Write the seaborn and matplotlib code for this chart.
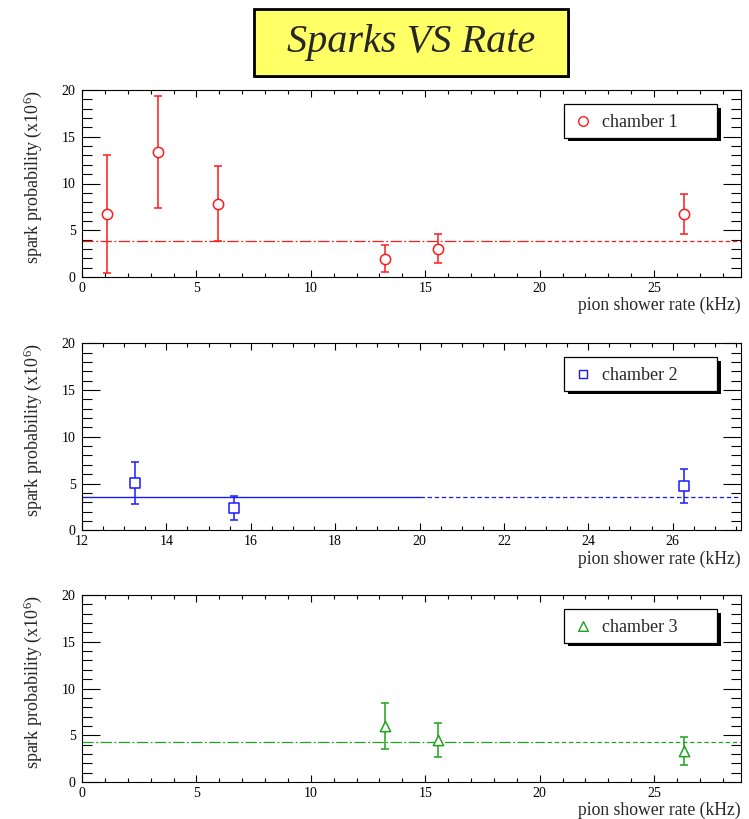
import matplotlib
matplotlib.use("Agg")
import matplotlib.pyplot as plt
from matplotlib.patches import Rectangle
from matplotlib.ticker import MultipleLocator
import pandas as pd
import seaborn as sns

# ---- data: spark probability (x10^6) versus pion shower rate (kHz) ----
rate_c1 = [1.1, 3.3, 5.95, 13.25, 15.55, 26.3]
prob_c1 = [6.74, 13.37, 7.84, 1.96, 3.03, 6.7]
err_c1 = [6.34, 6.02, 4.0, 1.43, 1.53, 2.14]
fit_c1 = 3.85

rate_c2 = [13.25, 15.6, 26.28]
prob_c2 = [5.08, 2.38, 4.76]
err_c2 = [2.22, 1.32, 1.8]
fit_c2 = 3.57

rate_c3 = [13.25, 15.56, 26.3]
prob_c3 = [5.95, 4.5, 3.36]
err_c3 = [2.45, 1.82, 1.5]
fit_c3 = 4.33

fit_end = 20.0
labels = ["chamber 1", "chamber 2", "chamber 3"]
colors = ["#ff1a1a", "#1a1aff", "#1fa31f"]
markers = ["o", "s", "^"]
xlims = [(0, 28.8), (12, 27.62), (0, 28.8)]
xmajor = [5, 2, 5]
xminor = [1, 0.5, 1]

sns.set_style("ticks")
plt.rcParams["font.family"] = ["Liberation Serif", "DejaVu Serif"]
plt.rcParams["mathtext.fontset"] = "custom"
plt.rcParams["mathtext.rm"] = "Liberation Serif"
plt.rcParams["mathtext.it"] = "Liberation Serif:italic"

W, H = 749, 819
fig = plt.figure(figsize=(W / 100, H / 100), dpi=100)
fig.patch.set_facecolor("white")

# title box with drop shadow
tx0, ty0, tx1, ty1 = 254, 9, 568, 76
fig.patches.append(Rectangle(((tx0 + 2) / W, 1 - (ty1 + 2) / H), (tx1 - tx0) / W, (ty1 - ty0) / H,
                             transform=fig.transFigure, fc="#222222", ec="none", zorder=1))
fig.patches.append(Rectangle((tx0 / W, 1 - ty1 / H), (tx1 - tx0) / W, (ty1 - ty0) / H,
                             transform=fig.transFigure, fc="#ffff66", ec="black", lw=2, zorder=2))
fig.text((tx0 + tx1) / 2 / W, 1 - (ty0 + ty1) / 2 / H, "Sparks VS Rate", ha="center", va="center",
         fontsize=29, style="italic", zorder=3)

panels = [
    (rate_c1, prob_c1, err_c1, fit_c1),
    (rate_c2, prob_c2, err_c2, fit_c2),
    (rate_c3, prob_c3, err_c3, fit_c3),
]
tops = [90, 343.3, 595]
ax_h = 187

for i, (rate, prob, err, fit) in enumerate(panels):
    top = tops[i]
    ax = fig.add_axes([82 / W, 1 - (top + ax_h) / H, 659 / W, ax_h / H])
    col = colors[i]
    df = pd.DataFrame({"rate": rate, "prob": prob, "err": err})

    lo, hi = xlims[i]
    # constant fit: fitted range and its extension
    if i == 1:
        ax.plot([lo, fit_end], [fit, fit], color=col, lw=1.0, ls="-", zorder=1)
    else:
        ax.plot([lo, fit_end], [fit, fit], color=col, lw=0.9, dashes=(9, 2, 1.5, 2), zorder=1)
    ax.plot([fit_end, hi], [fit, fit], color=col, lw=0.9, dashes=(3.5, 2.2), zorder=1)

    ax.errorbar(df["rate"], df["prob"], yerr=df["err"], fmt="none", ecolor=col,
                elinewidth=1.1, capsize=2.6, capthick=1.1, zorder=2)
    msize = 55 if markers[i] != "s" else 48
    sns.scatterplot(data=df, x="rate", y="prob", ax=ax, marker=markers[i], s=msize,
                    facecolor="white", edgecolor=col, linewidth=1.1, zorder=3, legend=False)

    ax.set_xlim(lo, hi)
    ax.set_ylim(0, 20)
    ax.xaxis.set_major_locator(MultipleLocator(xmajor[i]))
    ax.xaxis.set_minor_locator(MultipleLocator(xminor[i]))
    ax.yaxis.set_major_locator(MultipleLocator(5))
    ax.yaxis.set_minor_locator(MultipleLocator(1))
    ax.tick_params(axis="both", which="both", direction="in", top=True, right=True,
                   colors="black", width=0.8, labelsize=10)
    ax.tick_params(axis="y", which="major", length=13, pad=4.5)
    ax.tick_params(axis="y", which="minor", length=7)
    ax.tick_params(axis="x", which="major", length=5, pad=3.5)
    ax.tick_params(axis="x", which="minor", length=3)
    for sp in ax.spines.values():
        sp.set_linewidth(0.8)
        sp.set_color("black")

    ax.set_xlabel("pion shower rate (kHz)", fontsize=12.7, loc="right")
    ax.xaxis.set_label_coords(1.0, -(297 - 277) / ax_h)
    ax.set_ylabel("spark probability (x10$^{6}$)", fontsize=13, loc="top")
    ax.yaxis.set_label_coords(-(82 - 44) / 659, 1.0)

    # legend box with drop shadow
    lx0, lx1 = (564 - 82) / 659, (717 - 82) / 659
    ly1 = 1 - 14 / ax_h
    ly0 = 1 - 47.5 / ax_h
    sx, sy = 3.5 / 659, 3.5 / ax_h
    ax.add_patch(Rectangle((lx0 + sx, ly0 - sy), lx1 - lx0, ly1 - ly0, transform=ax.transAxes,
                           fc="black", ec="none", zorder=5, clip_on=False))
    ax.add_patch(Rectangle((lx0, ly0), lx1 - lx0, ly1 - ly0, transform=ax.transAxes,
                           fc="white", ec="black", lw=0.9, zorder=6, clip_on=False))
    yc = (ly0 + ly1) / 2
    ax.scatter([(582.7 - 82) / 659], [yc], transform=ax.transAxes, marker=markers[i],
               s=48 if markers[i] != "s" else 40, facecolor="white", edgecolor=col,
               linewidth=1.0, zorder=7, clip_on=False)
    ax.text((602 - 82) / 659, yc - 1.5 / ax_h, labels[i], transform=ax.transAxes,
            va="center", ha="left", fontsize=13, zorder=7)

fig.savefig("out.png", dpi=100)
